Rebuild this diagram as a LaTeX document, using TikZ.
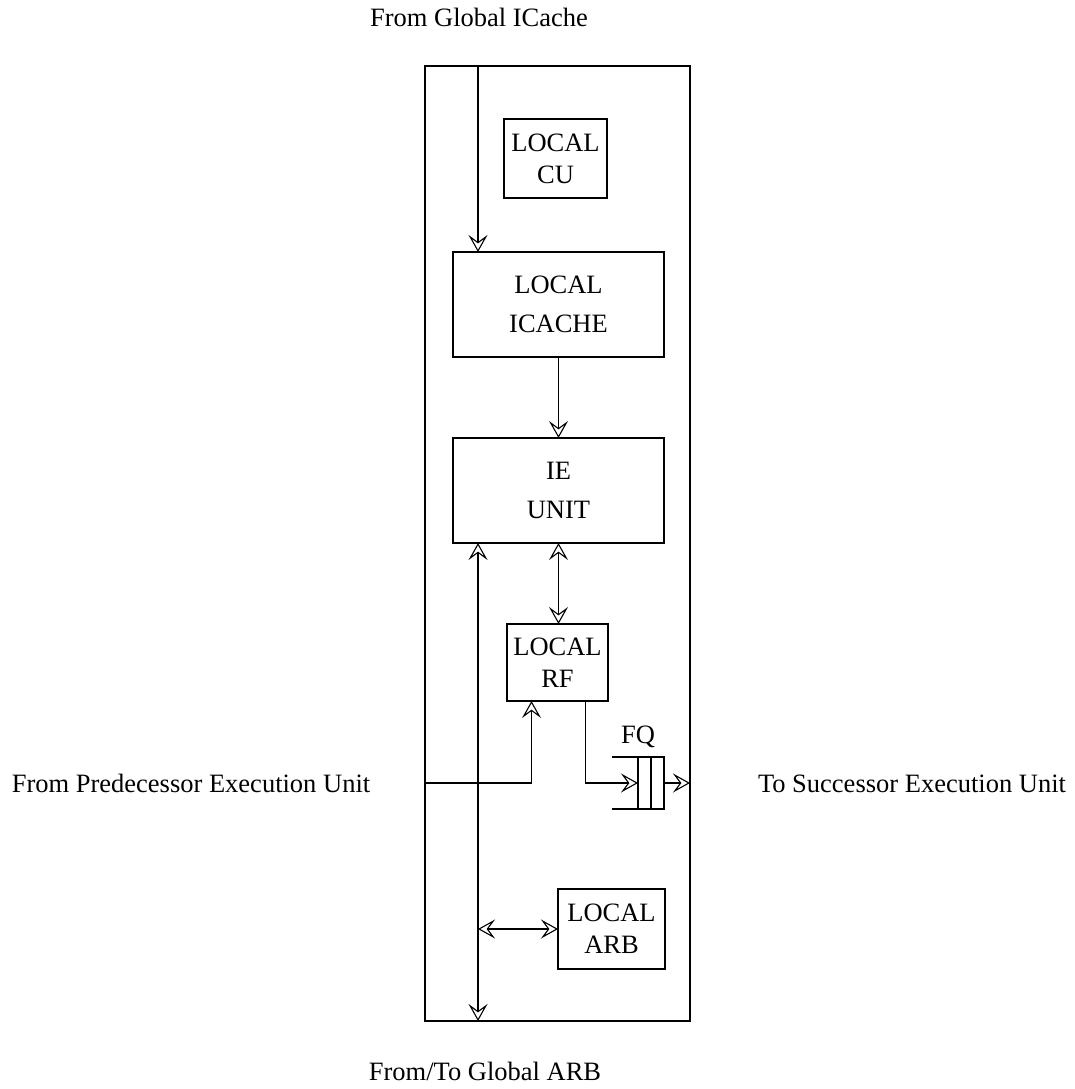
\documentclass[tikz,border=0pt]{standalone}
\usepackage{fontspec}
\setmainfont{Liberation Serif}
\usetikzlibrary{arrows.meta}
\begin{document}
\begin{tikzpicture}[x=1pt,y=-1pt,
  box/.style={draw, line width=1.1pt, inner sep=0pt, outer sep=0pt, align=center, font=\fontsize{26.5}{32}\selectfont},
  bigbox/.style={box, font=\fontsize{26.5}{39}\selectfont},
  lbl/.style={inner sep=0pt, anchor=base, font=\fontsize{26.5}{32}\selectfont},
  conn/.style={line width=1.1pt},
  >={Stealth[open,length=17pt,width=19pt,inset=7pt]}]
\useasboundingbox (0,0) rectangle (1075,1089);

% outer unit
\node[box, minimum width=265pt, minimum height=955pt] (outer) at (557.5,543.5) {};

% inner blocks
\node[box, minimum width=103pt, minimum height=79pt] (cu) at (555.5,158.5) {LOCAL\\CU};
\node[bigbox, minimum width=211pt, minimum height=105pt] (icache) at (558.5,304.5) {LOCAL\\ICACHE};
\node[bigbox, minimum width=211pt, minimum height=105pt] (ie) at (558.5,490.5) {IE\\UNIT};
\node[box, minimum width=101pt, minimum height=77pt] (rf) at (557.5,662.5) {LOCAL\\RF};
\node[box, minimum width=107pt, minimum height=80pt] (arb) at (611.5,929) {LOCAL\\ARB};

% forwarding queue
\node[draw, line width=1.1pt, inner sep=0pt, outer sep=0pt, minimum width=26pt, minimum height=52pt] (fq) at (651,783) {};
\draw[conn] (fq.north) -- (fq.south);
\draw[conn] (fq.north west) -- ++(-26,0);
\draw[conn] (fq.south west) -- ++(-26,0);
\node[lbl] (fqlbl) at (638,743) {FQ};

% coordinates
\coordinate (topin) at (478,66);
\coordinate (predin) at (425,783);

% connectors
\draw[conn,->] (topin) -- (topin |- icache.north);
\draw[conn,->] (icache.south) -- (ie.north);
\draw[conn,<->] (ie.south) -- (ie.south |- rf.north);
\draw[conn,<->] (topin |- ie.south) -- (topin |- outer.south);
\draw[conn,<->] (topin |- arb.west) -- (arb.west);
\draw[conn,->] (predin) -| ([xshift=-26pt]rf.south);
\draw[conn,->] ([xshift=28pt]rf.south) |- (fq.west);
\draw[conn,->] (fq.east) -- (fq.east -| outer.east);

% outside labels
\node[lbl] (gicache) at (479,27) {From Global ICache};
\node[lbl] (pred) at (191,792) {From Predecessor Execution Unit};
\node[lbl] (succ) at (912,792) {To Successor Execution Unit};
\node[lbl] (garb) at (485,1080) {From/To Global ARB};
\end{tikzpicture}
\end{document}
